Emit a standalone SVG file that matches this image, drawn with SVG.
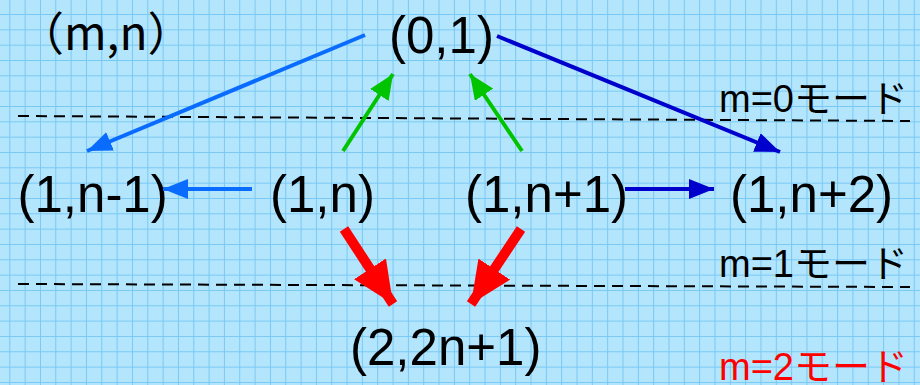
<svg xmlns="http://www.w3.org/2000/svg" width="920" height="385" viewBox="0 0 920 385">
<defs>
<pattern id="grid" patternUnits="userSpaceOnUse" x="9.3" y="-1.3" width="15.33" height="15.33">
<path d="M0 0.5 H15.33 M0.5 0 V15.33" stroke="#78c8f4" stroke-width="1" fill="none"/>
</pattern>
<marker id="hBlue" markerUnits="userSpaceOnUse" viewBox="0 0 25 20" refX="25" refY="10" markerWidth="25" markerHeight="20" orient="auto"><path d="M0 0 L25 10 L0 20 Z" fill="#0a6cff"/></marker>
<marker id="hNavy" markerUnits="userSpaceOnUse" viewBox="0 0 25 20" refX="25" refY="10" markerWidth="25" markerHeight="20" orient="auto"><path d="M0 0 L25 10 L0 20 Z" fill="#0000cc"/></marker>
<marker id="hGreen" markerUnits="userSpaceOnUse" viewBox="0 0 25 22" refX="25" refY="11" markerWidth="25" markerHeight="22" orient="auto"><path d="M0 0 L25 11 L0 22 Z" fill="#00c400"/></marker>
<marker id="hRed" markerUnits="userSpaceOnUse" viewBox="0 0 42 38" refX="42" refY="19" markerWidth="42" markerHeight="38" orient="auto"><path d="M0 0 L42 19 L0 38 Z" fill="#ff0000"/></marker>
</defs>
<style>
.node{font-family:"Liberation Sans",Arial,sans-serif;font-size:51px;fill:#000}
.mode{font-family:"Liberation Sans","Noto Sans CJK JP",sans-serif;font-size:38px;fill:#000}
.dash{stroke:#000;stroke-width:2;stroke-dasharray:11 7;fill:none}
.blue{stroke:#0a6cff;stroke-width:4;fill:none;marker-end:url(#hBlue)}
.navy{stroke:#0000cc;stroke-width:4;fill:none;marker-end:url(#hNavy)}
.green{stroke:#00c400;stroke-width:4;fill:none;marker-end:url(#hGreen)}
.red{stroke:#ff0000;stroke-width:10;fill:none;marker-end:url(#hRed)}
</style>
<rect width="920" height="385" fill="#b3e5fd"/>
<rect width="920" height="385" fill="url(#grid)"/>
<g id="levels">
<line class="dash" x1="18" y1="116" x2="910" y2="121"/>
<line class="dash" x1="18" y1="284" x2="910" y2="287"/>
<text class="mode" x="719" y="112">m=0モード</text>
<text class="mode" x="719" y="277">m=1モード</text>
<text class="mode" x="719" y="380" style="fill:#ff0000">m=2モード</text>
</g>
<g id="legend"><text x="18" y="50" style="font-family:'Noto Sans CJK JP',sans-serif;font-size:46px">（m,n）</text></g>
<g id="n01"><text class="node" x="389" y="53">(0,1)</text></g>
<g id="n1m1"><text class="node" x="17.5" y="212">(1,n-1)</text></g>
<g id="n1n"><text class="node" x="270" y="212">(1,n)</text></g>
<g id="n1p1"><text class="node" x="465" y="212">(1,n+1)</text></g>
<g id="n1p2"><text class="node" x="730" y="212">(1,n+2)</text></g>
<g id="n22"><text class="node" x="350" y="365">(2,2n+1)</text></g>
<g id="connectors">
<line class="blue" x1="365" y1="35" x2="87" y2="151"/>
<line class="blue" x1="252" y1="189" x2="163" y2="189"/>
<line class="navy" x1="497" y1="36" x2="780" y2="152"/>
<line class="navy" x1="625" y1="189" x2="714" y2="189"/>
<line class="green" x1="343" y1="151" x2="393" y2="74"/>
<line class="green" x1="522" y1="151" x2="470" y2="74"/>
<line class="red" x1="344" y1="229" x2="393" y2="304"/>
<line class="red" x1="521" y1="229" x2="471" y2="304"/>
</g>
</svg>
